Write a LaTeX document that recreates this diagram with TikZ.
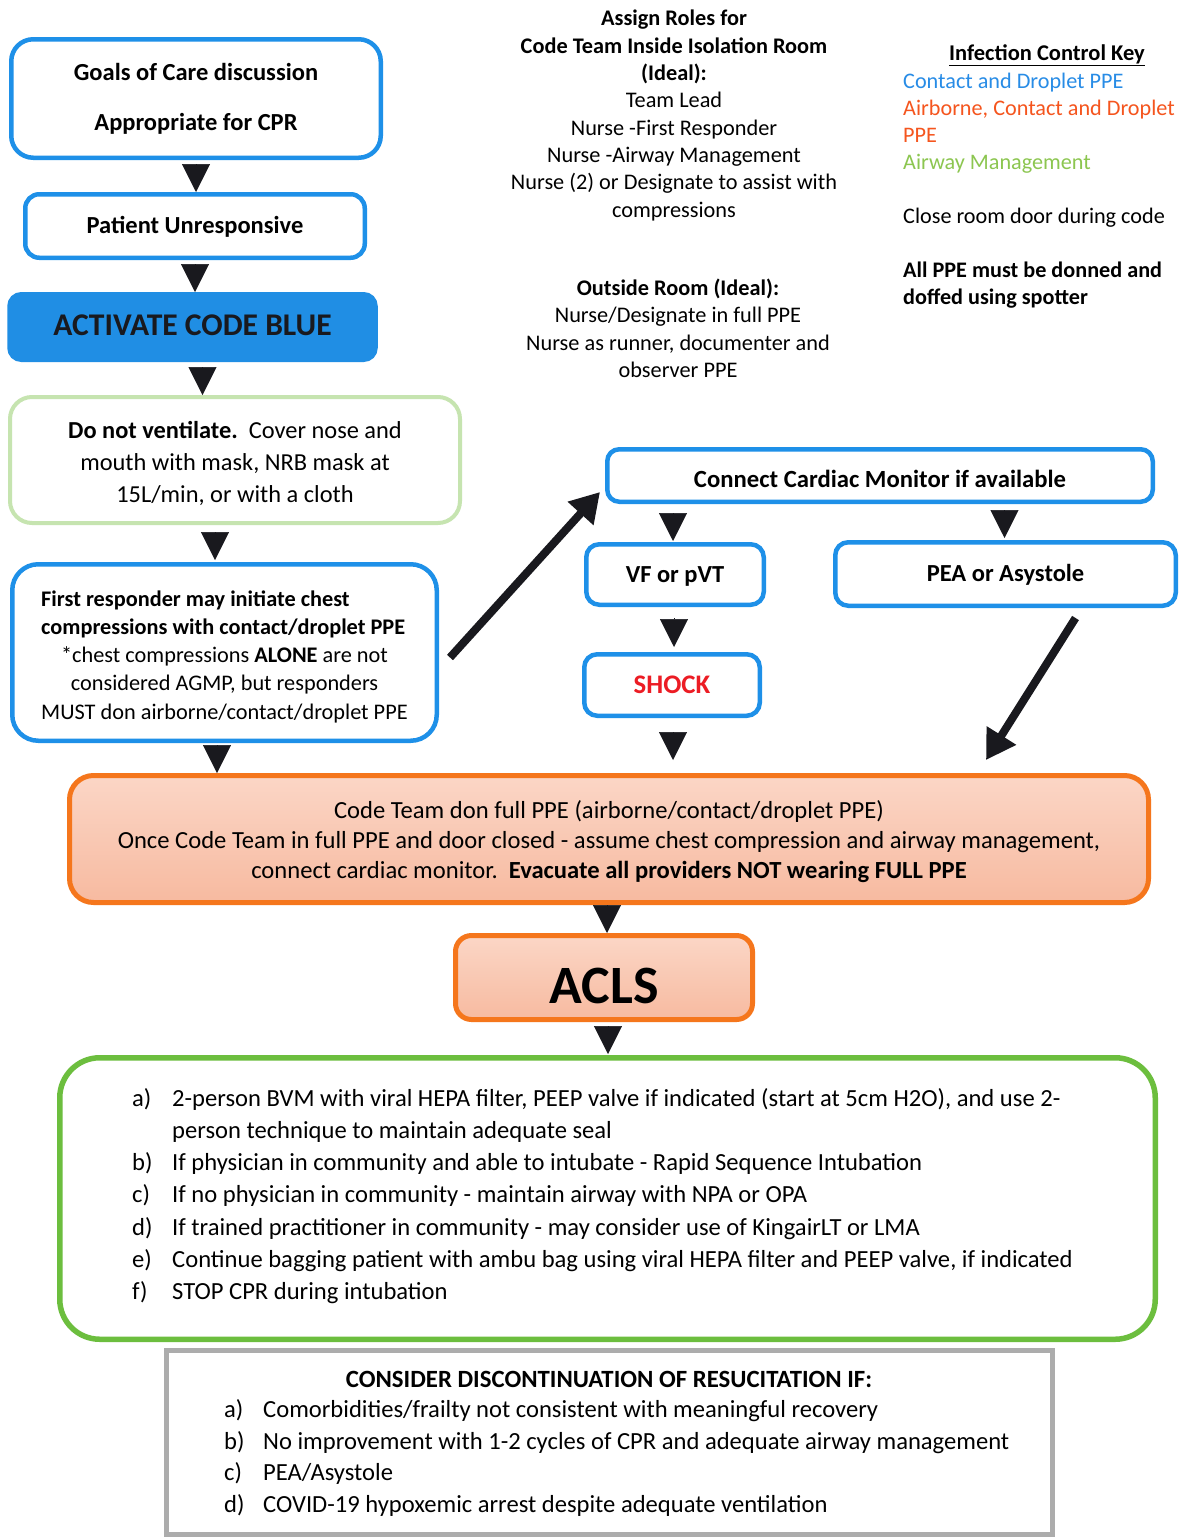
\documentclass[tikz,border=0pt]{standalone}
\usepackage{fontspec}
\setmainfont{Carlito}
\usetikzlibrary{arrows.meta}
\definecolor{cblue}{RGB}{30,144,232}
\definecolor{cacb}{RGB}{32,142,228}
\definecolor{clgreen}{RGB}{198,228,176}
\definecolor{corange}{RGB}{245,118,28}
\definecolor{cofilltop}{RGB}{251,214,198}
\definecolor{cofillbot}{RGB}{247,186,160}
\definecolor{cgreen}{RGB}{108,190,62}
\definecolor{cgray}{RGB}{172,172,172}
\definecolor{kblue}{RGB}{40,140,230}
\definecolor{korange}{RGB}{245,85,30}
\definecolor{kgreen}{RGB}{140,198,80}
\definecolor{cred}{RGB}{236,28,36}
\definecolor{cink}{RGB}{25,25,30}
\newcommand\itemlab[2][40pt]{\makebox[#1][l]{#2}}
\begin{document}
\begin{tikzpicture}[x=1pt,y=-1pt,
  bluebox/.style={draw=cblue, line width=4.5pt, fill=white, rounded corners=#1, inner sep=0pt},
  orangebox/.style={draw=corange, line width=5pt, top color=cofilltop, bottom color=cofillbot, rounded corners=#1, inner sep=0pt},
  bsingle/.style={font=\bfseries\fontsize{24.5}{29}\selectfont, text height=22pt, text depth=6.3pt},
  ttwo/.style={font=\fontsize{22.3}{27.3}\selectfont, inner sep=0pt},
  tri/.style 2 args={-{Triangle[length=28pt,width=28pt]}, draw=cink, line width=0.5pt, shorten <=#1, shorten >=#2},
  bigarrow/.style={-{Triangle[length=29pt,width=33pt]}, draw=cink, line width=8pt}
]
\path[fill=white] (0,0) rectangle (1181,1539);
\useasboundingbox (0,0) rectangle (1181,1539);

% left column
\node[bluebox=22pt, minimum width=369.5pt, minimum height=118.5pt, font=\bfseries\fontsize{24.5}{29}\selectfont] (goals) at (196,98.5)
  {\begin{tabular}{@{}c@{}}\rule{0pt}{22.9pt}Goals of Care discussion\\[21pt]Appropriate for CPR\end{tabular}};
\node[bluebox=14pt, minimum width=339.5pt, minimum height=63.5pt, bsingle] (pu) at (195,226) {Patient Unresponsive};
\node[draw=cacb, fill=cacb, line width=4pt, rounded corners=12pt, inner sep=0pt, minimum width=366.5pt, minimum height=66pt,
  font=\bfseries\fontsize{31.6}{38}\selectfont, text=cink, text height=24pt, text depth=7.6pt] (acb) at (192.5,327) {ACTIVATE CODE BLUE};
\node[draw=clgreen, line width=4pt, fill=white, rounded corners=22pt, inner sep=0pt, minimum width=450pt, minimum height=126pt,
  font=\fontsize{24.4}{32}\selectfont] (dnv) at (235,460)
  {\begin{tabular}{@{}c@{}}\rule{0pt}{30.4pt}\textbf{Do not ventilate.}\ \ Cover nose and\\ mouth with mask, NRB mask at\\ 15L/min, or with a cloth\end{tabular}};
\node[bluebox=26pt, minimum width=424.5pt, minimum height=176.5pt, font=\fontsize{22.3}{28.3}\selectfont] (fr) at (224.5,652.5)
  {\begin{tabular}{@{}c@{}}\multicolumn{1}{@{}l@{}}{\rule{0pt}{28.8pt}\textbf{First responder may initiate chest}}\\
   \multicolumn{1}{@{}l@{}}{\textbf{compressions with contact/droplet PPE}}\\
   \relax{*}chest compressions \textbf{ALONE} are not\\ considered AGMP, but responders\\ MUST don airborne/contact/droplet PPE\end{tabular}};

% right flow
\node[bluebox=12pt, minimum width=545.5pt, minimum height=52.5pt, font=\bfseries\fontsize{24.7}{29}\selectfont, text height=28.4pt, text depth=3.5pt] (cm) at (880,475.5) {Connect Cardiac Monitor if available};
\node[bluebox=13pt, minimum width=177.5pt, minimum height=60.5pt, bsingle] (vf) at (675,574.5) {VF or pVT};
\node[bluebox=13pt, minimum width=340.5pt, minimum height=63.5pt, bsingle] (pea) at (1005.5,574) {PEA or Asystole};
\node[bluebox=13pt, minimum width=175.5pt, minimum height=61.5pt, font=\bfseries\fontsize{26.8}{32}\selectfont, text=cred, text height=24.1pt, text depth=6.9pt] (shock) at (672,685) {SHOCK};

% orange and ACLS
\node[orangebox=24pt, minimum width=1079pt, minimum height=127pt, font=\fontsize{24.6}{30}\selectfont] (orange) at (609,839)
  {\begin{tabular}{@{}c@{}}\rule{0pt}{27pt}Code Team don full PPE (airborne/contact/droplet PPE)\\
   Once Code Team in full PPE and door closed - assume chest compression and airway management,\\
   connect cardiac monitor.\ \ \textbf{Evacuate all providers NOT wearing FULL PPE}\end{tabular}};
\node[orangebox=16pt, minimum width=297pt, minimum height=84pt, font=\bfseries\fontsize{54}{64}\selectfont, text height=51.8pt, text depth=0pt] (acls) at (604,977.5) {ACLS};

% big green list
\node[draw=cgreen, line width=5.5pt, fill=white, rounded corners=40pt, minimum width=1095.5pt, minimum height=281.5pt] (bg) at (607.5,1198.5) {};
\node[anchor=west, inner sep=0pt, font=\fontsize{24.6}{32.3}\selectfont] (bglist) at (132,1196.5)
  {\begin{tabular}{@{}l@{}}
   \itemlab{a)}2-person BVM with viral HEPA filter, PEEP valve if indicated (start at 5cm H2O), and use 2-\\
   \hspace*{40pt}person technique to maintain adequate seal\\
   \itemlab{b)}If physician in community and able to intubate - Rapid Sequence Intubation\\
   \itemlab{c)}If no physician in community - maintain airway with NPA or OPA\\
   \itemlab{d)}If trained practitioner in community - may consider use of KingairLT or LMA\\
   \itemlab{e)}Continue bagging patient with ambu bag using viral HEPA filter and PEEP valve, if indicated\\
   \itemlab{f)}STOP CPR during intubation
  \end{tabular}};

% gray box
\node[draw=cgray, line width=5pt, fill=white, minimum width=886pt, minimum height=184pt] (gray) at (609.5,1442.5) {};
\node[font=\bfseries\fontsize{24.8}{30}\selectfont, text height=22.3pt, text depth=6.3pt, inner sep=0pt] (graytitle) at (609,1379.5) {CONSIDER DISCONTINUATION OF RESUCITATION IF:};
\node[anchor=west, inner sep=0pt, font=\fontsize{24.6}{31.7}\selectfont] (graylist) at (224,1458.5)
  {\begin{tabular}{@{}l@{}}
   \itemlab[39pt]{a)}Comorbidities/frailty not consistent with meaningful recovery\\
   \itemlab[39pt]{b)}No improvement with 1-2 cycles of CPR and adequate airway management\\
   \itemlab[39pt]{c)}PEA/Asystole\\
   \itemlab[39pt]{d)}COVID-19 hypoxemic arrest despite adequate ventilation
  \end{tabular}};

% top texts
\node[ttwo] (roles) at (674,116)
  {\begin{tabular}{@{}c@{}}\textbf{Assign Roles for}\\ \textbf{Code Team Inside Isolation Room}\\ \textbf{(Ideal):}\\
   Team Lead\\ Nurse -First Responder\\ Nurse -Airway Management\\ Nurse (2) or Designate to assist with\\ compressions\end{tabular}};
\node[ttwo] (outside) at (678,331)
  {\begin{tabular}{@{}c@{}}\textbf{Outside Room (Ideal):}\\ Nurse/Designate in full PPE\\ Nurse as runner, documenter and\\ observer PPE\end{tabular}};
\node[inner sep=0pt, font=\bfseries\fontsize{22.5}{27}\selectfont, text height=20.2pt, text depth=5.8pt] (keytitle) at (1047,53.5) {\underline{Infection Control Key}};
\node[anchor=west, inner sep=0pt, font=\fontsize{22.2}{27.1}\selectfont] (keylist) at (903,191)
  {\begin{tabular}{@{}l@{}}
   \textcolor{kblue}{Contact and Droplet PPE}\\
   \textcolor{korange}{Airborne, Contact and Droplet}\\
   \textcolor{korange}{PPE}\\
   \textcolor{kgreen}{Airway Management}\\
   \\
   Close room door during code\\
   \\
   \textbf{All PPE must be donned and}\\
   \textbf{doffed using spotter}
  \end{tabular}};

% triangle connectors
\coordinate (t3) at ([xshift=10pt]acb.south);
\coordinate (t4) at ([xshift=-20pt]dnv.south);
\coordinate (t5) at ([xshift=-7.5pt]fr.south);
\coordinate (t6) at ([xshift=-2pt]orange.south);
\coordinate (t7) at ([xshift=4pt]acls.south);
\coordinate (t8) at ([xshift=-2pt]vf.north);
\coordinate (t9) at ([xshift=-1pt]pea.north);
\coordinate (t10) at ([xshift=-1pt]vf.south);
\coordinate (t11) at ([xshift=1pt]shock.south);
\draw[tri={4pt}{0pt}] (goals.south) -- (goals.south |- pu.north);
\draw[tri={4pt}{0pt}] (pu.south) -- (pu.south |- acb.north);
\draw[tri={5pt}{0pt}] (t3) -- (t3 |- dnv.north);
\draw[tri={7pt}{2pt}] (t4) -- (t4 |- fr.north);
\draw[tri={2pt}{0pt}] (t5) -- (t5 |- orange.north);
\draw[tri={0pt}{0pt}] (t6) -- (t6 |- acls.north);
\draw[tri={4pt}{1pt}] (t7) -- (t7 |- bg.north);
\draw[tri={9pt}{1pt}] (t8 |- cm.south) -- (t8);
\draw[tri={6pt}{2pt}] (t9 |- cm.south) -- (t9);
\draw[tri={11pt}{5pt}] (t10) -- (t10 |- shock.north);
\draw[tri={14pt}{13pt}] (t11) -- (t11 |- orange.north);

% diagonal arrows
\draw[bigarrow] ([xshift=11pt,yshift=-5pt]fr.east) -- ([xshift=-5pt,yshift=12pt]cm.south west);
\draw[bigarrow] ([xshift=70pt,yshift=-10pt]pea.south) -- ([xshift=-165pt,yshift=13pt]orange.north east);
\end{tikzpicture}
\end{document}
